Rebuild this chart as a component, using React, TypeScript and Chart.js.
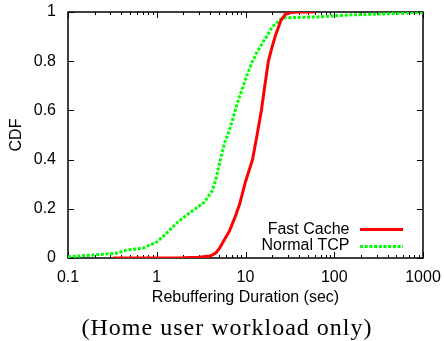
import { useEffect, useRef } from "react";
import { Chart, registerables } from "chart.js";

Chart.register(...registerables);

// ---- data ----
const fastCacheDuration = [0.32, 1, 2, 3, 4, 4.6, 5.1, 5.8, 6.6, 7.6, 8.6, 10, 12, 13.5, 15.1, 16.5, 18.1, 20, 22, 25, 28, 32, 40, 60];
const fastCacheCdf = [0, 0, 0.001, 0.003, 0.008, 0.02, 0.04, 0.075, 0.11, 0.165, 0.22, 0.31, 0.4, 0.5, 0.6, 0.7, 0.8, 0.86, 0.91, 0.965, 0.99, 0.998, 1, 1];

const normalTcpDuration = [0.1, 0.19, 0.36, 0.46, 0.7, 1, 1.2, 1.4, 1.72, 2.34, 3.46, 4.26, 4.7, 5.1, 5.8, 6.6, 8.1, 10.2, 12, 13.3, 15.5, 17.7, 20, 22.3, 26, 40, 63, 148, 350, 830, 1000];
const normalTcpCdf = [0.005, 0.012, 0.02, 0.033, 0.04, 0.065, 0.09, 0.114, 0.146, 0.183, 0.228, 0.276, 0.33, 0.386, 0.467, 0.52, 0.63, 0.736, 0.8, 0.833, 0.874, 0.906, 0.94, 0.955, 0.976, 0.978, 0.98, 0.988, 0.992, 0.998, 1];

const seriesLabels = ["Fast Cache", "Normal TCP"];
const xDecadeTicks = [0.1, 1, 10, 100, 1000];
const yTickValues = [0, 0.2, 0.4, 0.6, 0.8, 1];
const xAxisTitle = "Rebuffering Duration (sec)";
const yAxisTitle = "CDF";
const caption = "(Home user workload only)";

const RED = "#ff0000";
const GREEN = "#00ff00";

const framePlugin = {
  id: "gnuplotFrame",
  beforeDatasetsDraw(chart: any) {
    const { ctx, chartArea } = chart;
    const { left, right, top, bottom } = chartArea;
    const xs = chart.scales.x;
    const ys = chart.scales.y;
    ctx.save();
    ctx.strokeStyle = "#000";
    ctx.lineWidth = 1;
    ctx.beginPath();
    for (const t of xs.ticks) {
      const px = Math.round(xs.getPixelForValue(t.value)) + 0.5;
      const len = xDecadeTicks.includes(t.value) ? 6 : 3;
      ctx.moveTo(px, bottom);
      ctx.lineTo(px, bottom - len);
      ctx.moveTo(px, top);
      ctx.lineTo(px, top + len);
    }
    for (const t of ys.ticks) {
      const py = Math.round(ys.getPixelForValue(t.value)) + 0.5;
      ctx.moveTo(left, py);
      ctx.lineTo(left + 6, py);
      ctx.moveTo(right, py);
      ctx.lineTo(right - 6, py);
    }
    ctx.stroke();
    ctx.lineWidth = 1.5;
    ctx.strokeRect(left, top, right - left, bottom - top);
    ctx.restore();
  },
  afterDraw(chart: any) {
    const { ctx } = chart;
    ctx.save();
    const rows = [229.5, 245.5];
    chart.data.datasets.forEach((ds: any, i: number) => {
      const y = rows[i];
      ctx.font = "16px 'Liberation Sans', Arial, sans-serif";
      ctx.fillStyle = "#000";
      ctx.textAlign = "right";
      ctx.textBaseline = "middle";
      ctx.fillText(ds.label, 349.5, y);
      ctx.beginPath();
      ctx.strokeStyle = ds.borderColor;
      ctx.lineWidth = ds.borderWidth;
      ctx.setLineDash(ds.borderDash || []);
      ctx.moveTo(360, y + (i === 1 ? 1 : 0));
      ctx.lineTo(403, y + (i === 1 ? 1 : 0));
      ctx.stroke();
      ctx.setLineDash([]);
    });
    ctx.font = "24px 'Liberation Serif', 'Times New Roman', serif";
    (ctx as any).letterSpacing = "1px";
    ctx.fillStyle = "#000";
    ctx.textAlign = "center";
    ctx.textBaseline = "alphabetic";
    ctx.fillText(caption, 227, 335);
    ctx.restore();
  },
};

export default function App() {
  const canvasRef = useRef<HTMLCanvasElement | null>(null);

  useEffect(() => {
    document.body.style.margin = "0";
    const canvas = canvasRef.current;
    if (!canvas) return;
    Chart.defaults.font.family = "'Liberation Sans', Arial, sans-serif";
    Chart.defaults.font.size = 16;
    Chart.defaults.color = "#000";

    const chart = new Chart(canvas, {
      type: "line",
      data: {
        datasets: [
          {
            label: seriesLabels[0],
            data: fastCacheDuration.map((x, i) => ({ x, y: fastCacheCdf[i] })),
            borderColor: RED,
            backgroundColor: RED,
            borderWidth: 3,
            pointRadius: 0,
            tension: 0,
          },
          {
            label: seriesLabels[1],
            data: normalTcpDuration.map((x, i) => ({ x, y: normalTcpCdf[i] })),
            borderColor: GREEN,
            backgroundColor: GREEN,
            borderWidth: 3,
            borderDash: [3, 1.7],
            pointRadius: 0,
            tension: 0,
          },
        ],
      },
      options: {
        animation: false,
        responsive: false,
        maintainAspectRatio: false,
        layout: { padding: { top: 12, right: 21, left: 0, bottom: 0 } },
        plugins: {
          legend: { display: false },
          tooltip: { enabled: false },
        },
        scales: {
          x: {
            type: "logarithmic",
            min: 0.1,
            max: 1000,
            grid: { display: false, drawTicks: false },
            border: { display: false },
            afterBuildTicks: (scale: any) => {
              const ticks: any[] = [];
              for (let d = 0; d < xDecadeTicks.length - 1; d++) {
                for (let k = 1; k <= 9; k++) ticks.push({ value: xDecadeTicks[d] * k });
              }
              ticks.push({ value: xDecadeTicks[xDecadeTicks.length - 1] });
              scale.ticks = ticks;
            },
            afterFit: (scale: any) => {
              scale.height = 83;
              scale.paddingLeft = 0;
              scale.paddingRight = 0;
            },
            ticks: {
              autoSkip: false,
              maxRotation: 0,
              minRotation: 0,
              padding: 10,
              callback: (v: any) => (xDecadeTicks.includes(v) ? String(v) : ""),
            },
            title: {
              display: true,
              text: xAxisTitle,
              padding: { top: 0, bottom: 33.4 },
            },
          },
          y: {
            type: "linear",
            min: 0,
            max: 1,
            grid: { display: false, drawTicks: false },
            border: { display: false },
            afterBuildTicks: (scale: any) => {
              scale.ticks = yTickValues.map((v) => ({ value: v }));
            },
            afterFit: (scale: any) => {
              scale.width = 68;
              scale.paddingTop = 0;
              scale.paddingBottom = 0;
            },
            ticks: {
              padding: 12,
              callback: (v: any) => String(v),
            },
            title: {
              display: true,
              text: yAxisTitle,
              padding: { top: 7.4, bottom: 0 },
            },
          },
        },
      },
      plugins: [framePlugin],
    });
    return () => chart.destroy();
  }, []);

  return (
    <div style={{ width: 444, height: 341, position: "relative" }}>
      <canvas ref={canvasRef} width={444} height={341} style={{ width: 444, height: 341, display: "block" }} />
    </div>
  );
}
